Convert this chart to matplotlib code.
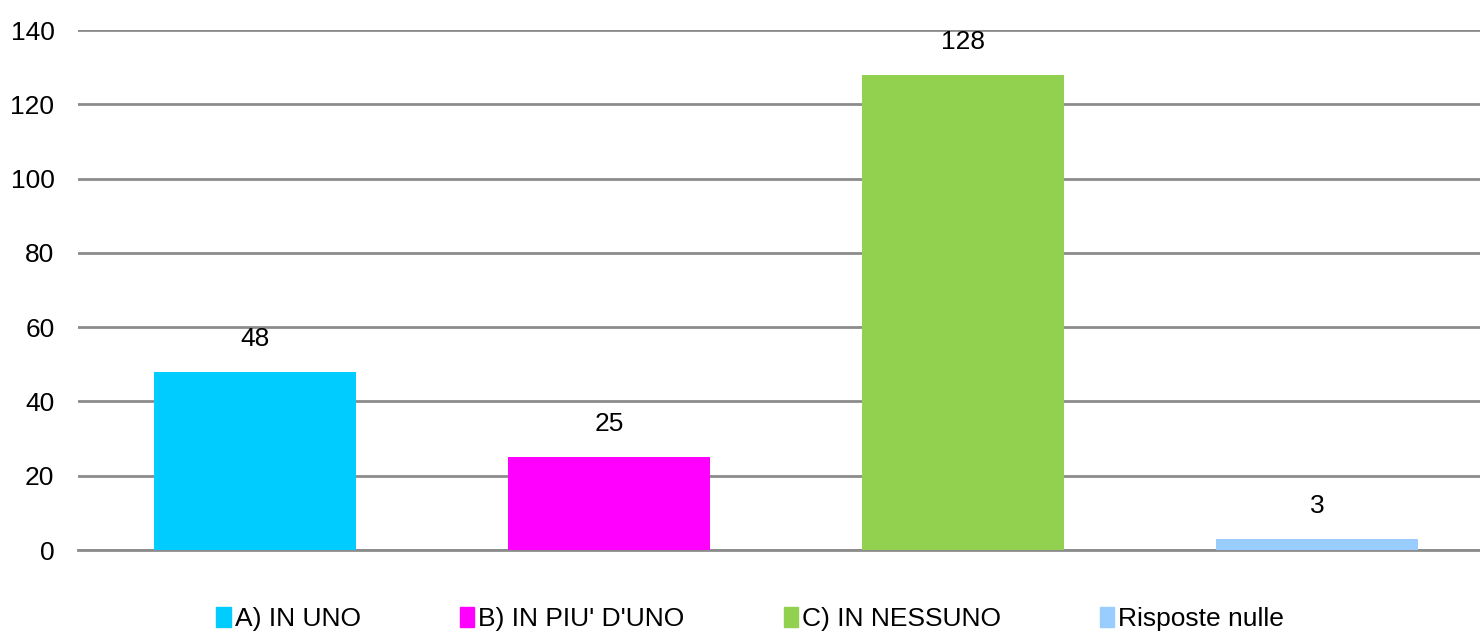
import matplotlib.pyplot as plt
import numpy as np

categories = ["A) IN UNO", "B) IN PIU' D'UNO", "C) IN NESSUNO", "Risposte nulle"]
values = [48, 25, 128, 3]
colors = ["#00CCFF", "#FF00FF", "#92D050", "#99CCFF"]
yticks = [0, 20, 40, 60, 80, 100, 120, 140]

plt.rcParams['font.family'] = ['Liberation Sans', 'DejaVu Sans']

fig = plt.figure(figsize=(14.8, 6.36), dpi=100)
# the plot area runs off the right edge in the original
ax = fig.add_axes([78 / 1480, (636 - 550) / 636, (1494 - 78) / 1480, 520 / 636])

x = np.arange(len(values))
bars = ax.bar(x, values, width=0.57, color=colors, zorder=3)
for b, v in zip(bars, values):
    ax.annotate(str(v), (b.get_x() + b.get_width() / 2, v), xytext=(0, 15),
                textcoords="offset points", ha="center", va="bottom", fontsize=19)

ax.set_xlim(-0.5, 3.5)
ax.set_ylim(0, 140)
ax.set_yticks(yticks)
ax.set_xticks([])
ax.yaxis.grid(True, color="#8c8c8c", linewidth=2)
ax.set_axisbelow(True)
for s in ax.spines.values():
    s.set_visible(False)
ax.tick_params(axis="y", length=0, labelsize=19, pad=17)
ax.set_yticklabels([str(t) for t in yticks])
ax.axhline(0, color="#8c8c8c", linewidth=2, zorder=2, clip_on=False)

handles = [plt.Rectangle((0, 0), 1, 1, color=c) for c in colors]
fig.legend(handles, categories, loc="lower center", bbox_to_anchor=(0.507, -0.03),
           ncol=4, frameon=False, fontsize=19, handlelength=0.55, handleheight=0.8,
           handletextpad=0.15, columnspacing=3.75)

fig.savefig("out.png", dpi=100)
